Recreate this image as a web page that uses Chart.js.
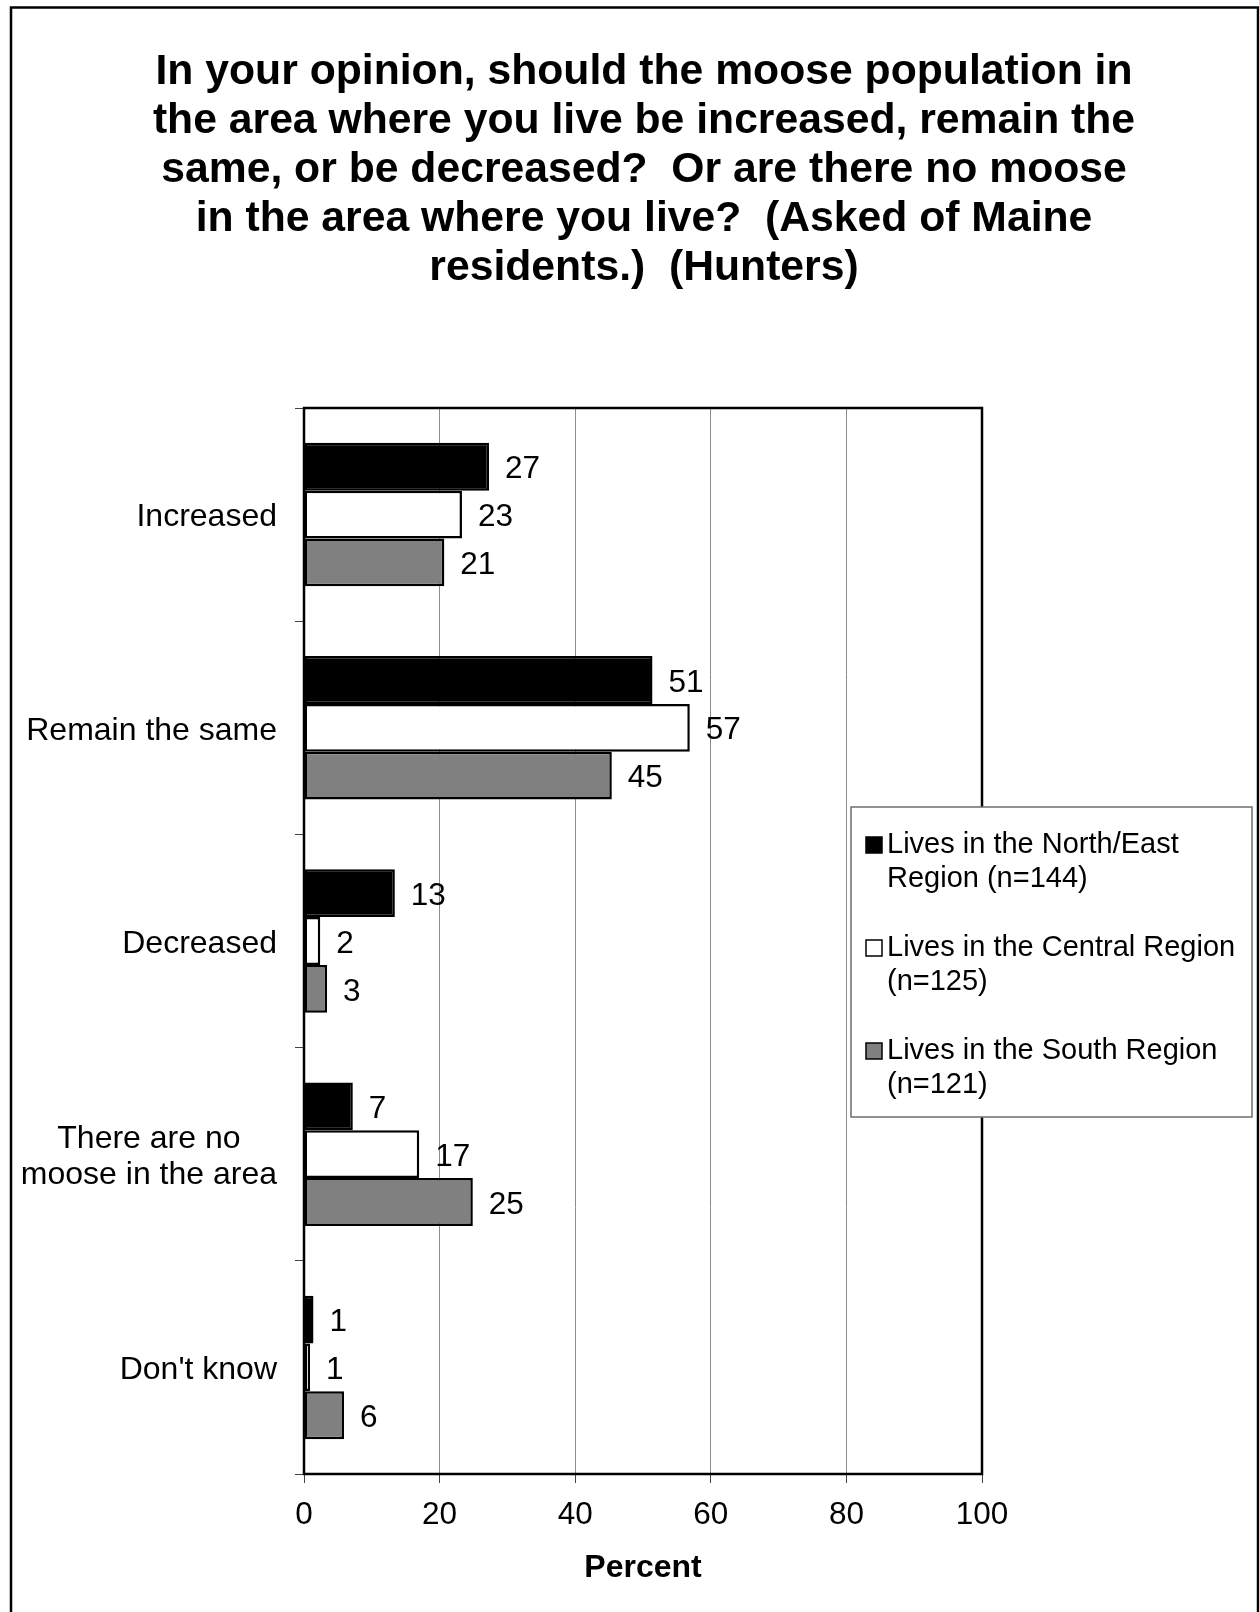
<!DOCTYPE html>
<html>
<head>
<meta charset="utf-8">
<title>Moose population opinion (Hunters)</title>
<script src="https://cdn.jsdelivr.net/npm/chart.js@4.4.1/dist/chart.umd.min.js"></script>
<style>
  html, body { margin: 0; padding: 0; background: #fff; }
  #moose-chart { display: block; }
</style>
</head>
<body>
<canvas id="moose-chart" width="1259" height="1612"></canvas>
<script>
const TITLE_LINES = [
    "In your opinion, should the moose population in",
    "the area where you live be increased, remain the",
    "same, or be decreased?  Or are there no moose",
    "in the area where you live?  (Asked of Maine",
    "residents.)  (Hunters)"
];
const CATEGORIES = [
    ["Increased"],
    ["Remain the same"],
    ["Decreased"],
    ["There are no", "moose in the area"],
    ["Don't know"]
];
const SERIES_NAMES = [
    ["Lives in the North/East", "Region (n=144)"],
    ["Lives in the Central Region", "(n=125)"],
    ["Lives in the South Region", "(n=121)"]
];
const NORTH_EAST = [27.3, 51.4, 13.4, 7.2, 1.4];
const CENTRAL = [23.3, 56.9, 2.4, 17.0, 0.9];
const SOUTH = [20.7, 45.4, 3.4, 24.9, 5.9];
const X_TICKS = [0, 20, 40, 60, 80, 100];
const X_TITLE = "Percent";

const FILLS = ["#000000", "#ffffff", "#808080"];
const FONT = "'Liberation Sans', Arial, Helvetica, sans-serif";

// page border + multi-line title, centred a bit right of the canvas middle
const pageTitle = {
    id: "pageTitle",
    afterDraw(chart) {
        let ctx = chart.ctx;
        ctx.save();
        ctx.strokeStyle = "#000";
        ctx.lineWidth = 2.5;
        ctx.strokeRect(11, 7.5, 1247, 1640);

        ctx.fillStyle = "#000";
        ctx.font = "bold 42.7px " + FONT;
        ctx.textAlign = "center";
        ctx.textBaseline = "middle";
        TITLE_LINES.forEach((line, i) => ctx.fillText(line, 644, 72 + i * 49));
        ctx.restore();
    }
};

// category labels: block right-aligned at the axis, lines centred inside the block
const categoryLabels = {
    id: "categoryLabels",
    afterDraw(chart) {
        let ctx = chart.ctx;
        let yScale = chart.scales.y;
        let rightEdge = yScale.right - 27;
        let lineHeight = 36;
        ctx.save();
        ctx.fillStyle = "#000";
        ctx.font = "32px " + FONT;
        ctx.textAlign = "center";
        ctx.textBaseline = "middle";
        CATEGORIES.forEach((lines, i) => {
            let y = yScale.getPixelForValue(i) + 3;
            let blockWidth = Math.max(...lines.map(l => ctx.measureText(l).width));
            let cx = rightEdge - blockWidth / 2;
            lines.forEach((line, j) => {
                ctx.fillText(line, cx, y + (j - (lines.length - 1) / 2) * lineHeight);
            });
        });
        ctx.restore();
    }
};

// rounded value at the end of each bar
const valueLabels = {
    id: "valueLabels",
    afterDatasetsDraw(chart) {
        let ctx = chart.ctx;
        ctx.save();
        ctx.fillStyle = "#000";
        ctx.font = "31.5px " + FONT;
        ctx.textAlign = "left";
        ctx.textBaseline = "middle";
        chart.data.datasets.forEach((ds, d) => {
            chart.getDatasetMeta(d).data.forEach((bar, i) => {
                ctx.fillText(String(Math.round(ds.data[i])), bar.x + 16, bar.y + 3);
            });
        });
        ctx.restore();
    }
};

// black frame round the plot area
const plotFrame = {
    id: "plotFrame",
    afterDatasetsDraw(chart) {
        let { left, top, right, bottom } = chart.chartArea;
        let ctx = chart.ctx;
        ctx.save();
        ctx.strokeStyle = "#000";
        ctx.lineWidth = 2.5;
        ctx.strokeRect(left, top, right - left, bottom - top);
        ctx.restore();
    }
};

// boxed legend with wrapped names, to the right of the plot
const boxLegend = {
    id: "boxLegend",
    afterDraw(chart) {
        let ctx = chart.ctx;
        let box = { x: 851, y: 807, w: 401, h: 310 };
        ctx.save();
        ctx.fillStyle = "#fff";
        ctx.fillRect(box.x, box.y, box.w, box.h);
        ctx.strokeStyle = "#6e6e6e";
        ctx.lineWidth = 1.5;
        ctx.strokeRect(box.x, box.y, box.w, box.h);

        ctx.font = "29px " + FONT;
        ctx.textAlign = "left";
        ctx.textBaseline = "middle";
        chart.data.datasets.forEach((ds, i) => {
            let y0 = box.y + 38 + i * 103;
            ctx.fillStyle = ds.backgroundColor;
            ctx.fillRect(866, y0 - 8, 16, 16);
            ctx.strokeStyle = "#000";
            ctx.lineWidth = 1.5;
            ctx.strokeRect(866, y0 - 8, 16, 16);
            ctx.fillStyle = "#000";
            SERIES_NAMES[i].forEach((line, j) => ctx.fillText(line, 887, y0 + j * 34));
        });
        ctx.restore();
    }
};

const seriesValues = [NORTH_EAST, CENTRAL, SOUTH];

new Chart(document.getElementById("moose-chart"), {
    type: "bar",
    data: {
        labels: CATEGORIES.map(c => c.join(" ")),
        datasets: seriesValues.map((values, i) => ({
            label: SERIES_NAMES[i].join(" "),
            data: values,
            backgroundColor: FILLS[i],
            borderColor: "#000",
            borderWidth: 2.5,
            borderSkipped: false,
            categoryPercentage: 0.673,
            barPercentage: 1.0
        }))
    },
    options: {
        indexAxis: "y",
        responsive: false,
        animation: false,
        events: [],
        layout: { padding: { top: 408, right: 277, bottom: 0, left: 0 } },
        scales: {
            x: {
                min: X_TICKS[0],
                max: X_TICKS[X_TICKS.length - 1],
                afterFit: scale => { scale.height = 138; },
                afterBuildTicks: scale => { scale.ticks = X_TICKS.map(v => ({ value: v })); },
                border: { display: false },
                grid: {
                    color: "#8c8c8c",
                    lineWidth: 1,
                    tickColor: "#444",
                    tickLength: 9
                },
                ticks: {
                    color: "#000",
                    padding: 13,
                    font: { family: FONT, size: 31.5 }
                },
                title: {
                    display: true,
                    text: X_TITLE,
                    color: "#000",
                    font: { family: FONT, size: 32, weight: "bold" },
                    padding: { top: 0, bottom: 25 }
                }
            },
            y: {
                afterFit: scale => { scale.width = 304; },
                border: { display: false },
                grid: {
                    drawOnChartArea: false,
                    tickColor: "#444",
                    tickLength: 9
                },
                ticks: { display: false }
            }
        },
        plugins: {
            legend: { display: false },
            title: { display: false },
            tooltip: { enabled: false }
        }
    },
    plugins: [valueLabels, plotFrame, categoryLabels, boxLegend, pageTitle]
});
</script>
</body>
</html>
